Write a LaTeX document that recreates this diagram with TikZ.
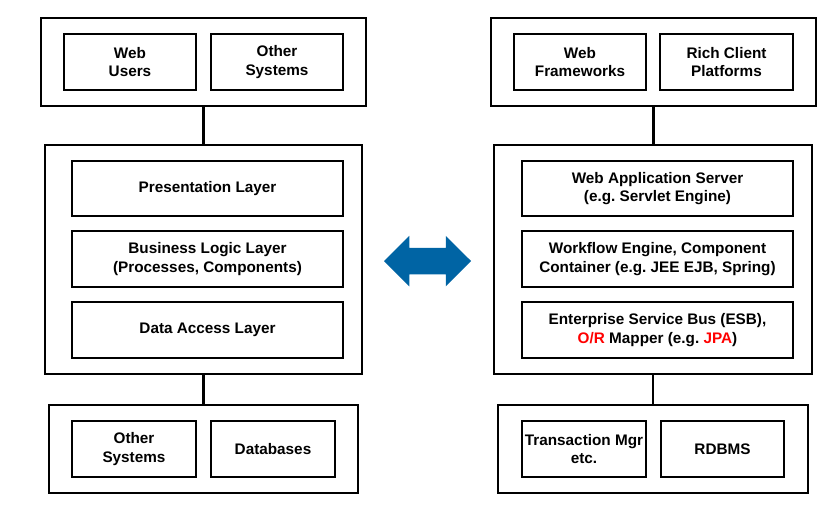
\documentclass[tikz,border=0pt]{standalone}
\usepackage{fontspec}
\setmainfont{Liberation Sans}
\usepackage{tikz}
\usetikzlibrary{positioning,shapes.arrows}
\definecolor{arrowblue}{HTML}{0064A4}
\frenchspacing

\begin{document}
\begin{tikzpicture}[x=1pt, y=-1pt, line width=2.5pt, outer box/.style={rectangle,draw,inner sep=0pt}, inner box/.style={rectangle,draw,inner sep=0pt,minimum height=56pt,align=center}]
\useasboundingbox (0,0) rectangle (832,504);
\begin{scope}[every node/.style={font=\fontsize{15.3}{18.8}\selectfont\bfseries}]
% left stack
\node[outer box,minimum width=325pt,minimum height=88pt] (topL) at (203.5,62) {};
\node[inner box,minimum width=132pt] (webUsers) at (130,62) {Web\\Users};
\node[inner box,minimum width=132pt] (otherTop) at (277,62) {Other\\Systems};
\node[outer box,minimum width=317pt,minimum height=229pt] (midL) at (203.5,259.5) {};
\node[inner box,minimum width=271pt,minimum height=55pt] (pres) at (207.5,188.5) {Presentation Layer};
\node[inner box,minimum width=271pt] (busi) at (207.5,259) {Business Logic Layer\\(Processes, Components)};
\node[inner box,minimum width=271pt] (dal) at (207.5,330) {Data Access Layer};
\node[outer box,minimum width=309pt,minimum height=88pt] (botL) at (203.5,449) {};
\node[inner box,minimum width=124pt] (otherBot) at (134,449) {Other\\Systems};
\node[inner box,minimum width=124pt] (dbs) at (273,449) {Databases};
% right stack
\node[outer box,minimum width=325pt,minimum height=88pt] (topR) at (653.5,62) {};
\node[inner box,minimum width=132pt] (webFw) at (580,62) {Web\\Frameworks};
\node[inner box,minimum width=133pt] (rich) at (726.5,62) {Rich Client\\Platforms};
\node[outer box,minimum width=318pt,minimum height=229pt] (midR) at (653,259.5) {};
\node[inner box,minimum width=271pt,minimum height=55pt] (was) at (657.5,188.5) {Web Application Server\\(e.g. Servlet Engine)};
\node[inner box,minimum width=271pt] (wfe) at (657.5,259) {Workflow Engine, Component\\Container (e.g. JEE EJB, Spring)};
\node[inner box,minimum width=271pt] (esb) at (657.5,330) {Enterprise Service Bus (ESB),\\\textcolor{red}{O/R} Mapper (e.g. \textcolor{red}{JPA})};
\node[outer box,minimum width=310pt,minimum height=88pt] (botR) at (653,449) {};
\node[inner box,minimum width=124pt] (txn) at (584,449) {Transaction Mgr\\etc.};
\node[inner box,minimum width=123pt] (rdbms) at (722.5,449) {RDBMS};
\end{scope}
\node[double arrow,fill=arrowblue,draw=none,inner xsep=0pt,inner ysep=12pt,double arrow head extend=12pt,minimum height=87pt,minimum width=48pt] (swap) at (427.5,261) {};
\begin{scope}[line width=2.5pt]
\draw (topL.south) -- (midL.north);
\draw (midL.south) -- (botL.north);
\draw (topR.south) -- (topR.south |- midR.north);
\draw (midR.south) -- (midR.south |- botR.north);
\end{scope}
\end{tikzpicture}
\end{document}
